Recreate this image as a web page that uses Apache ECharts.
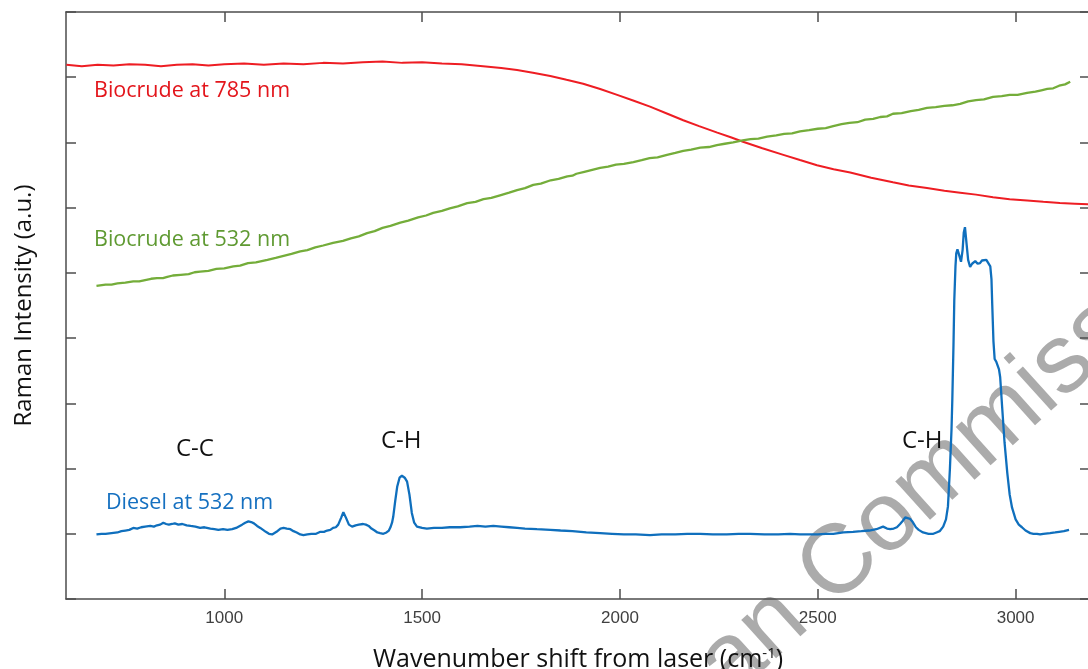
<!DOCTYPE html>
<html>
<head>
<meta charset="utf-8">
<script src="https://cdn.jsdelivr.net/npm/echarts@6/dist/echarts.min.js"></script>
<style>
html,body{margin:0;padding:0;background:#fff;}
#chart{width:1088px;height:669px;}
</style>
</head>
<body>
<div id="chart"></div>
<script>
// Tick labels on x axis
const xTicks = [1000, 1500, 2000, 2500, 3000];
const yTicks = [0, 1, 2, 3, 4, 5, 6, 7, 8, 9];

// Biocrude at 785 nm (red)
const biocrude785 = [
[601,8.19],[640,8.17],[680,8.19],[720,8.18],[760,8.20],[800,8.19],[840,8.17],[880,8.19],[920,8.20],[960,8.18],
[1000,8.20],[1050,8.21],[1100,8.19],[1150,8.21],[1200,8.20],[1250,8.22],[1300,8.21],[1350,8.23],[1400,8.24],[1450,8.22],
[1500,8.23],[1550,8.21],[1600,8.20],[1654,8.17],[1700,8.14],[1740,8.11],[1780,8.07],[1824,8.02],[1865,7.96],[1907,7.90],
[1950,7.82],[1993,7.73],[2035,7.64],[2076,7.55],[2120,7.44],[2160,7.34],[2200,7.25],[2246,7.15],[2280,7.08],[2311,7.01],
[2360,6.91],[2413,6.81],[2455,6.73],[2498,6.65],[2540,6.59],[2582,6.54],[2635,6.46],[2690,6.39],[2730,6.34],[2776,6.30],
[2820,6.26],[2860,6.23],[2900,6.20],[2943,6.16],[2985,6.13],[3029,6.11],[3070,6.09],[3112,6.07],[3150,6.06],[3188,6.05]
];

// Biocrude at 532 nm (green)
const biocrude532 = [
[677,4.80],[700,4.82],[715,4.82],[730,4.84],[750,4.85],[770,4.87],[785,4.87],[800,4.89],[815,4.91],[830,4.92],[845,4.92],[856,4.94],
[870,4.96],[890,4.97],[910,4.98],[925,5.01],[939,5.02],[960,5.03],[980,5.06],[1000,5.07],[1023,5.10],[1040,5.11],[1060,5.15],[1080,5.16],
[1109,5.20],[1130,5.23],[1150,5.26],[1170,5.29],[1192,5.33],[1210,5.35],[1230,5.39],[1250,5.42],[1275,5.46],[1300,5.49],[1320,5.53],[1340,5.56],
[1361,5.61],[1380,5.64],[1400,5.69],[1420,5.72],[1445,5.77],[1465,5.80],[1490,5.85],[1510,5.88],[1528,5.92],[1550,5.95],[1570,5.99],[1590,6.02],
[1614,6.07],[1635,6.09],[1655,6.13],[1675,6.15],[1697,6.19],[1720,6.23],[1740,6.27],[1760,6.30],[1781,6.35],[1800,6.37],[1825,6.42],[1845,6.44],
[1867,6.48],[1880,6.49],[1890,6.52],[1910,6.55],[1930,6.58],[1950,6.61],[1970,6.63],[1990,6.66],[2010,6.67],[2034,6.70],[2055,6.73],[2075,6.76],
[2095,6.77],[2119,6.81],[2140,6.84],[2160,6.87],[2180,6.89],[2203,6.92],[2225,6.93],[2245,6.96],[2265,6.98],[2286,7.00],[2310,7.03],[2330,7.05],
[2350,7.06],[2372,7.09],[2395,7.11],[2415,7.13],[2435,7.14],[2455,7.17],[2478,7.19],[2500,7.21],[2520,7.22],[2539,7.25],[2560,7.28],[2580,7.30],
[2600,7.31],[2620,7.35],[2640,7.36],[2658,7.39],[2675,7.40],[2690,7.44],[2712,7.45],[2735,7.48],[2755,7.50],[2776,7.53],[2798,7.54],[2820,7.56],
[2840,7.57],[2860,7.59],[2880,7.63],[2900,7.65],[2920,7.66],[2943,7.70],[2965,7.71],[2985,7.73],[3005,7.73],[3029,7.76],[3050,7.78],[3065,7.80],
[3080,7.82],[3095,7.83],[3110,7.87],[3125,7.89],[3138,7.93]
];

// Diesel at 532 nm (blue)
const diesel532 = [
[677,0.99],[690,1.00],[700,1.00],[715,1.01],[730,1.02],[740,1.04],[750,1.05],[760,1.06],[770,1.09],[780,1.08],[790,1.10],[800,1.11],[813,1.12],
[822,1.11],[830,1.13],[838,1.14],[846,1.17],[853,1.15],[860,1.14],[868,1.15],[875,1.16],[884,1.14],[894,1.15],[905,1.13],
[915,1.12],[927,1.11],[939,1.09],[950,1.10],[965,1.08],[975,1.07],[985,1.06],[997,1.07],[1008,1.06],[1020,1.07],[1030,1.09],[1045,1.14],
[1053,1.17],[1061,1.19],[1068,1.18],[1075,1.16],[1083,1.12],[1091,1.09],[1098,1.06],[1105,1.03],[1113,1.00],[1121,0.99],
[1132,1.03],[1142,1.08],[1150,1.09],[1158,1.08],[1167,1.07],[1175,1.04],[1183,1.02],[1192,0.99],[1200,0.98],[1210,0.99],[1220,1.00],[1232,1.00],
[1243,1.03],[1252,1.03],[1260,1.05],[1268,1.06],[1275,1.09],[1282,1.10],[1288,1.14],[1295,1.24],
[1301,1.33],[1308,1.24],[1315,1.14],[1323,1.11],[1332,1.13],[1340,1.14],[1351,1.15],[1358,1.14],[1365,1.12],[1372,1.08],[1380,1.05],[1387,1.02],
[1394,1.01],[1402,1.00],[1410,1.02],[1416,1.05],[1420,1.10],[1424,1.17],[1427,1.26],
[1432,1.50],[1437,1.72],[1443,1.86],[1449,1.89],[1456,1.86],[1462,1.80],[1468,1.60],[1474,1.32],[1480,1.17],[1487,1.11],[1500,1.09],[1512,1.08],
[1530,1.09],[1550,1.09],[1570,1.10],[1596,1.10],[1620,1.11],[1640,1.12],[1660,1.11],[1680,1.12],[1700,1.11],[1720,1.10],[1740,1.09],[1760,1.08],
[1790,1.07],[1824,1.06],[1850,1.05],[1880,1.04],[1915,1.02],[1950,1.01],[1980,1.00],[2010,0.99],[2040,0.99],[2076,0.98],[2105,0.99],[2140,0.99],
[2170,1.00],[2203,1.00],[2235,0.99],[2270,0.99],[2300,1.00],[2329,1.00],[2365,0.99],[2400,0.99],[2430,1.00],[2455,0.99],[2480,0.99],[2500,0.99],
[2520,1.00],[2539,1.00],[2565,1.02],[2589,1.03],[2610,1.04],[2630,1.05],[2648,1.07],[2665,1.11],[2675,1.08],[2683,1.07],[2692,1.08],[2700,1.10],
[2708,1.15],[2715,1.20],[2721,1.25],[2726,1.26],[2733,1.23],[2740,1.18],[2748,1.10],[2755,1.06],[2766,1.02],[2780,1.00],[2792,1.00],[2800,1.02],
[2808,1.04],[2817,1.11],[2824,1.22],[2829,1.42],[2834,2.00],[2838,2.60],[2840,3.05],
[2843,3.90],[2845,4.58],[2848,5.10],[2850,5.30],[2853,5.36],[2857,5.28],[2862,5.17],[2866,5.35],[2869,5.62],[2872,5.70],[2876,5.45],[2880,5.20],
[2885,5.09],[2890,5.14],[2898,5.18],[2904,5.14],[2910,5.15],[2915,5.19],[2920,5.17],[2926,5.20],[2931,5.17],[2936,5.10],[2939,4.90],[2941,4.50],
[2944,3.95],[2947,3.68],[2951,3.64],[2955,3.62],[2958,3.52],[2961,3.40],[2966,2.94],[2972,2.40],[2979,1.93],[2985,1.60],[2991,1.40],[3000,1.22],
[3008,1.14],[3016,1.10],[3025,1.05],[3037,1.01],[3045,1.00],[3054,1.00],[3062,0.99],[3070,1.00],[3087,1.01],[3100,1.02],[3110,1.03],[3122,1.04],[3135,1.06]
];

const axisColor = '#4d4d4d';
const chart = echarts.init(document.getElementById('chart'), null, {renderer: 'canvas'});

const option = {
  animation: false,
  backgroundColor: '#ffffff',
  grid: {left: 66, top: 12, width: 1024, height: 587, containLabel: false, outerBoundsMode: 'none'},
  xAxis: [
    {
      type: 'value', position: 'bottom', min: 600, max: 3188,
      name: 'Wavenumber shift from laser (cm{sup|-1})',
      nameLocation: 'middle', nameGap: 47,
      nameTextStyle: {
        color: '#111', fontFamily: 'Open Sans', fontSize: 25,
        rich: {sup: {fontSize: 15, verticalAlign: 'top', color: '#111', fontFamily: 'Open Sans', padding: [0, 0, 12, 0]}}
      },
      axisLine: {show: true, onZero: false, lineStyle: {color: axisColor, width: 1.5}},
      axisTick: {show: true, inside: true, length: 10, customValues: xTicks, lineStyle: {color: axisColor, width: 1.5}},
      axisLabel: {show: true, customValues: xTicks, margin: 11, color: '#404040', fontFamily: 'Liberation Sans', fontSize: 17,
                  formatter: function (v) { return String(v); }},
      splitLine: {show: false}
    },
    {
      type: 'value', position: 'top', min: 600, max: 3188,
      axisLine: {show: true, onZero: false, lineStyle: {color: axisColor, width: 1.5}},
      axisTick: {show: true, inside: true, length: 10, customValues: xTicks, lineStyle: {color: axisColor, width: 1.5}},
      axisLabel: {show: false},
      splitLine: {show: false}
    }
  ],
  yAxis: [
    {
      type: 'value', position: 'left', min: 0, max: 9, interval: 1,
      name: 'Raman Intensity (a.u.)', nameLocation: 'middle', nameGap: 30,
      nameTextStyle: {color: '#111', fontFamily: 'Open Sans', fontSize: 24},
      axisLine: {show: true, onZero: false, lineStyle: {color: axisColor, width: 1.5}},
      axisTick: {show: true, inside: true, length: 10, lineStyle: {color: axisColor, width: 1.5}},
      axisLabel: {show: false},
      splitLine: {show: false}
    },
    {
      type: 'value', position: 'right', min: 0, max: 9, interval: 1,
      axisLine: {show: true, onZero: false, lineStyle: {color: axisColor, width: 1.5}},
      axisTick: {show: true, inside: true, length: 10, lineStyle: {color: axisColor, width: 1.5}},
      axisLabel: {show: false},
      splitLine: {show: false}
    }
  ],
  series: [
    {name: 'Biocrude at 785 nm', type: 'line', data: biocrude785, showSymbol: false, smooth: false,
     lineStyle: {color: '#ee1d23', width: 2}, itemStyle: {color: '#ee1d23'}, z: 3},
    {name: 'Biocrude at 532 nm', type: 'line', data: biocrude532, showSymbol: false,
     lineStyle: {color: '#74ad3a', width: 2.3}, itemStyle: {color: '#74ad3a'}, z: 3},
    {name: 'Diesel at 532 nm', type: 'line', data: diesel532, showSymbol: false, smooth: false,
     lineStyle: {color: '#0f6fbd', width: 2.3}, itemStyle: {color: '#0f6fbd'}, z: 3}
  ],
  graphic: [
    {type: 'text', x: 846, y: 559, rotation: 42 * Math.PI / 180, z: -5, silent: true,
     style: {text: 'European Commission', font: '98px "Liberation Sans"', fill: 'rgba(150,150,150,0.8)', align: 'center', verticalAlign: 'middle'}},
    {type: 'text', x: 94, y: 91, z: 10, style: {text: 'Biocrude at 785 nm', font: '21.5px "Open Sans"', fill: '#e3151b', verticalAlign: 'middle'}},
    {type: 'text', x: 94, y: 240, z: 10, style: {text: 'Biocrude at 532 nm', font: '21.5px "Open Sans"', fill: '#5f9a32', verticalAlign: 'middle'}},
    {type: 'text', x: 106, y: 503, z: 10, style: {text: 'Diesel at 532 nm', font: '21.5px "Open Sans"', fill: '#1570c0', verticalAlign: 'middle'}},
    {type: 'text', x: 176, y: 449, z: 10, style: {text: 'C-C', font: '24px "Open Sans"', fill: '#111', verticalAlign: 'middle'}},
    {type: 'text', x: 381, y: 441, z: 10, style: {text: 'C-H', font: '24px "Open Sans"', fill: '#111', verticalAlign: 'middle'}},
    {type: 'text', x: 902, y: 441, z: 10, style: {text: 'C-H', font: '24px "Open Sans"', fill: '#111', verticalAlign: 'middle'}}
  ]
};
chart.setOption(option);
</script>
</body>
</html>
